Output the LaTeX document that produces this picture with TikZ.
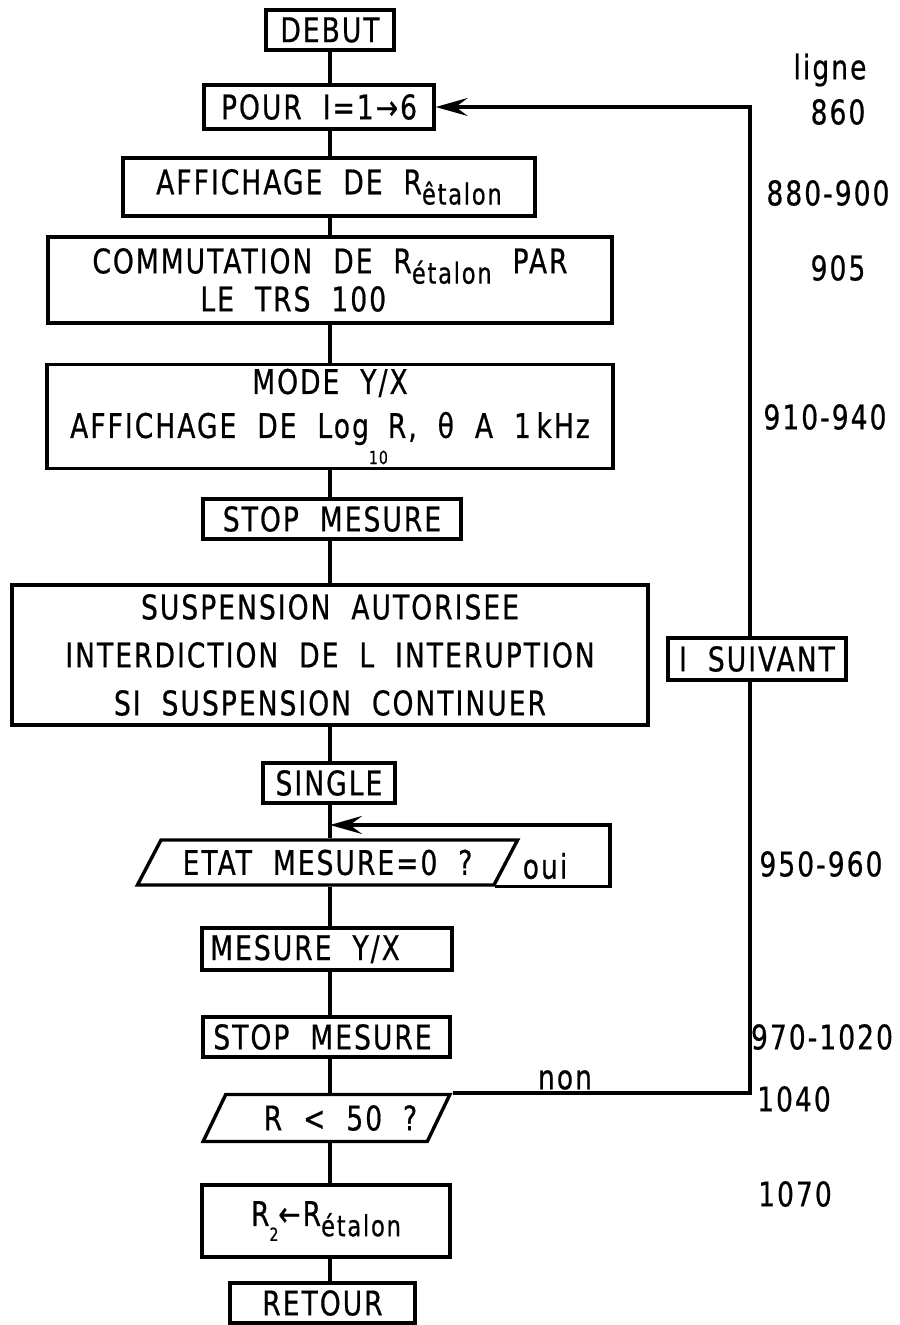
\documentclass[tikz,border=0pt]{standalone}
\usepackage{fontspec}
\setmainfont{DejaVu Sans}[FakeStretch=0.78, LetterSpace=6, WordSpace=2, FakeBold=0.6]
\usetikzlibrary{arrows.meta,shapes.geometric}

\newcommand{\Ret}[1]{R\raisebox{-0.55ex}{\fontsize{14.5}{14.5}\selectfont #1}}
\newcommand{\idx}[1]{\raisebox{-0.8ex}{\fontsize{9}{9}\selectfont #1}}

\tikzset{
  box/.style={draw, line width=1.7pt, inner sep=2pt, align=center},
  para/.style={draw, line width=1.7pt, trapezium, trapezium left angle=55,
    trapezium right angle=125, trapezium stretches=true, inner sep=1pt},
  flow/.style={line width=1.7pt},
  back/.style={line width=1.7pt, -{Stealth[length=16pt,width=9pt,inset=6pt]}},
}

\begin{document}
\begin{tikzpicture}[x=0.5pt,y=-0.5pt,font=\fontsize{17}{20}\selectfont]
\useasboundingbox (0,0) rectangle (899,1325);
\coordinate (axis) at (330,0);
\coordinate (rx) at (750,0);
\coordinate (lp) at (610,825);

% main column
\node[box, minimum width=64pt, minimum height=20pt] (debut) at (330,30) {DEBUT};
\node[box, minimum width=115pt, minimum height=22pt] (pour) at (319,107) {POUR I=1→6};
\node[box, minimum width=206pt, minimum height=29pt] (affich) at (329,187)
  {AFFICHAGE DE \Ret{êtalon}};
\node[box, align=left, minimum width=282pt, minimum height=43pt] (commut) at (330,280)
  {COMMUTATION DE \Ret{étalon} PAR\\[-1pt] \hspace*{54pt}LE TRS 100};
\node[box, minimum width=283pt, minimum height=46.5pt] (mode) at (330,416.5)
  {MODE Y/X\\[2pt] AFFICHAGE DE Log\raisebox{-1.4ex}{\fontsize{9}{9}\selectfont 10}R, θ A 1\,kHz};
\node[box, minimum width=129pt, minimum height=20pt] (stop1) at (332,519) {STOP MESURE};
\node[box, minimum width=318pt, minimum height=70pt] (susp) at (330,655)
  {SUSPENSION AUTORISEE\\[4pt] INTERDICTION DE L INTERUPTION\\[4pt] SI SUSPENSION CONTINUER};
\node[box, minimum width=66pt, minimum height=20pt] (single) at (329,783) {SINGLE};
\node[para, minimum width=190.5pt, minimum height=22.5pt] (etat) at (327.5,862.5)
  {ETAT MESURE=0 ?};
\node[box, minimum width=125pt, minimum height=21pt] (mesure) at (327,949) {MESURE Y/X\hspace*{22pt}};
\node[box, minimum width=123.5pt, minimum height=20pt] (stop2) at (326.5,1037) {STOP MESURE\hspace*{4pt}};
\node[para, minimum width=123.5pt, minimum height=23.5pt] (r50) at (326.5,1118)
  {\hspace*{14pt}\raisebox{-4pt}{R < 50 ?}};
\node[box, minimum width=124pt, minimum height=36pt] (r2) at (326,1221)
  {R\idx{2}←\Ret{étalon}};
\node[box, minimum width=92.5pt, minimum height=20pt] (retour) at (322.5,1303) {RETOUR};

% side boxes and texts
\node[box, minimum width=89pt, minimum height=21pt] (suiv) at (757,659) {I SUIVANT};
\node (oui) at (545,866) {oui};
\node (non) at (565,1080) {non};

% main line
\foreach \a/\b in {debut/pour, pour/affich, affich/commut, commut/mode, mode/stop1,
  stop1/susp, susp/single, single/etat, etat/mesure, mesure/stop2, stop2/r50, r50/r2, r2/retour}
  \draw[flow] (\a.south -| axis) -- (\b.north -| axis);

% loops
\draw[back] (etat.bottom right corner) -| (lp) -- (lp -| axis);
\draw[flow] (r50.top right corner) -| (suiv.south -| rx);
\draw[back] (suiv.north -| rx) |- (pour.east);

% line numbers
\foreach \x/\y/\t [count=\i] in {830/70/ligne, 838/112/860, 828/193/880-900, 838/268/905,
  825/417/910-940, 821/864/950-960, 822/1037/970-1020, 794/1099/1040, 795/1194/1070}
  \node (lab\i) at (\x,\y) {\t};
\end{tikzpicture}
\end{document}
